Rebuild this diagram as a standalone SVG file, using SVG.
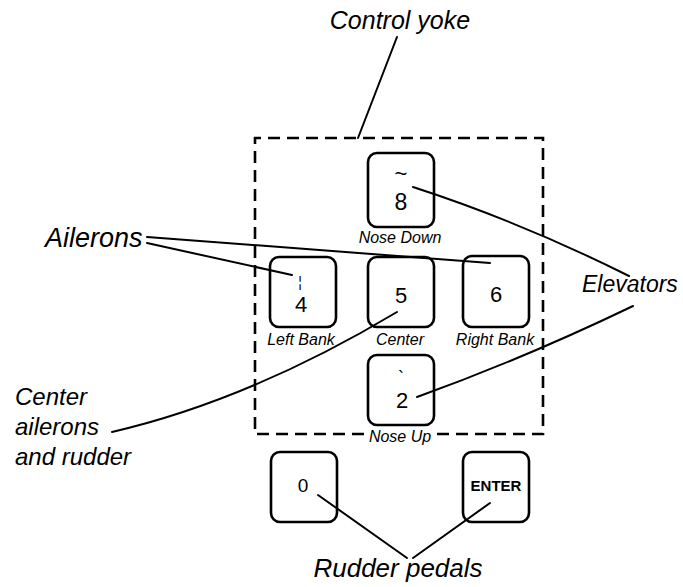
<svg xmlns="http://www.w3.org/2000/svg" width="683" height="587" viewBox="0 0 683 587">
  <style>
    .key { fill: none; stroke: #000; stroke-width: 2.6; }
    .cap { font-family: "Liberation Sans", Arial, sans-serif; fill: #000; text-anchor: middle; }
    .sub { font-family: "Liberation Sans", Arial, sans-serif; font-style: italic; font-size: 16px; fill: #000; text-anchor: middle; }
    .lbl { font-family: "Liberation Sans", Arial, sans-serif; font-style: italic; fill: #000; }
    .lead { fill: none; stroke: #000; stroke-width: 2; stroke-linecap: round; }
    .frame { fill: none; stroke: #000; stroke-width: 2.6; stroke-dasharray: 12 7; }
  </style>
  <rect width="683" height="587" fill="#fff"/>

  <!-- dashed outline of the yoke keys, open under "Nose Up" -->
  <g id="yoke-frame">
    <path class="frame" d="M 364 434 H 255 V 138 H 543 V 434 H 436"/>
  </g>

  <g id="key-8">
    <rect class="key" x="368" y="153" width="66" height="74" rx="9"/>
    <text class="cap" x="401" y="181" font-size="22">~</text>
    <text class="cap" x="401" y="210" font-size="23">8</text>
    <text class="sub" x="400" y="243">Nose Down</text>
  </g>
  <g id="key-4">
    <rect class="key" x="270" y="257" width="66" height="70" rx="9"/>
    <text class="cap" x="300" y="287" font-size="14">¦</text>
    <text class="cap" x="301" y="312" font-size="22">4</text>
    <text class="sub" x="301" y="345">Left Bank</text>
  </g>
  <g id="key-5">
    <rect class="key" x="368" y="257" width="66" height="70" rx="9"/>
    <text class="cap" x="401" y="303" font-size="22">5</text>
    <text class="sub" x="400" y="345">Center</text>
  </g>
  <g id="key-6">
    <rect class="key" x="463" y="256" width="66" height="71" rx="9"/>
    <text class="cap" x="496" y="302" font-size="22">6</text>
    <text class="sub" x="495" y="345">Right Bank</text>
  </g>
  <g id="key-2">
    <rect class="key" x="368" y="355" width="66" height="70" rx="9"/>
    <text class="cap" x="401" y="384" font-size="18">`</text>
    <text class="cap" x="402" y="408" font-size="22">2</text>
    <text class="sub" x="400" y="442">Nose Up</text>
  </g>
  <g id="key-0">
    <rect class="key" x="271" y="452" width="66" height="70" rx="9"/>
    <text class="cap" x="303" y="492" font-size="19">0</text>
  </g>
  <g id="key-enter">
    <rect class="key" x="463" y="452" width="66" height="70" rx="9"/>
    <text class="cap" x="496" y="491" font-size="15" font-weight="bold">ENTER</text>
  </g>

  <g id="label-yoke">
    <text class="lbl" x="400" y="29" font-size="25" text-anchor="middle">Control yoke</text>
  </g>
  <g id="label-ailerons">
    <text class="lbl" x="45" y="247" font-size="27">Ailerons</text>
  </g>
  <g id="label-center">
    <text class="lbl" x="15" y="405" font-size="24">Center</text>
    <text class="lbl" x="15" y="435" font-size="24">ailerons</text>
    <text class="lbl" x="15" y="465" font-size="24">and rudder</text>
  </g>
  <g id="label-elevators">
    <text class="lbl" x="582" y="292" font-size="23">Elevators</text>
  </g>
  <g id="label-rudder">
    <text class="lbl" x="398" y="577" font-size="26" text-anchor="middle">Rudder pedals</text>
  </g>

  <!-- leader lines -->
  <g id="connectors">
    <path class="lead" d="M 397 37 L 358 138"/>
    <path class="lead" d="M 147 237 L 490 263"/>
    <path class="lead" d="M 147 243 L 292 275"/>
    <path class="lead" d="M 112 432 Q 250 400 397 312"/>
    <path class="lead" d="M 413 187 Q 521 222 629 276"/>
    <path class="lead" d="M 633 306 Q 525 358 417 397"/>
    <path class="lead" d="M 318 495 L 407 558"/>
    <path class="lead" d="M 490 503 L 413 558"/>
  </g>
</svg>
